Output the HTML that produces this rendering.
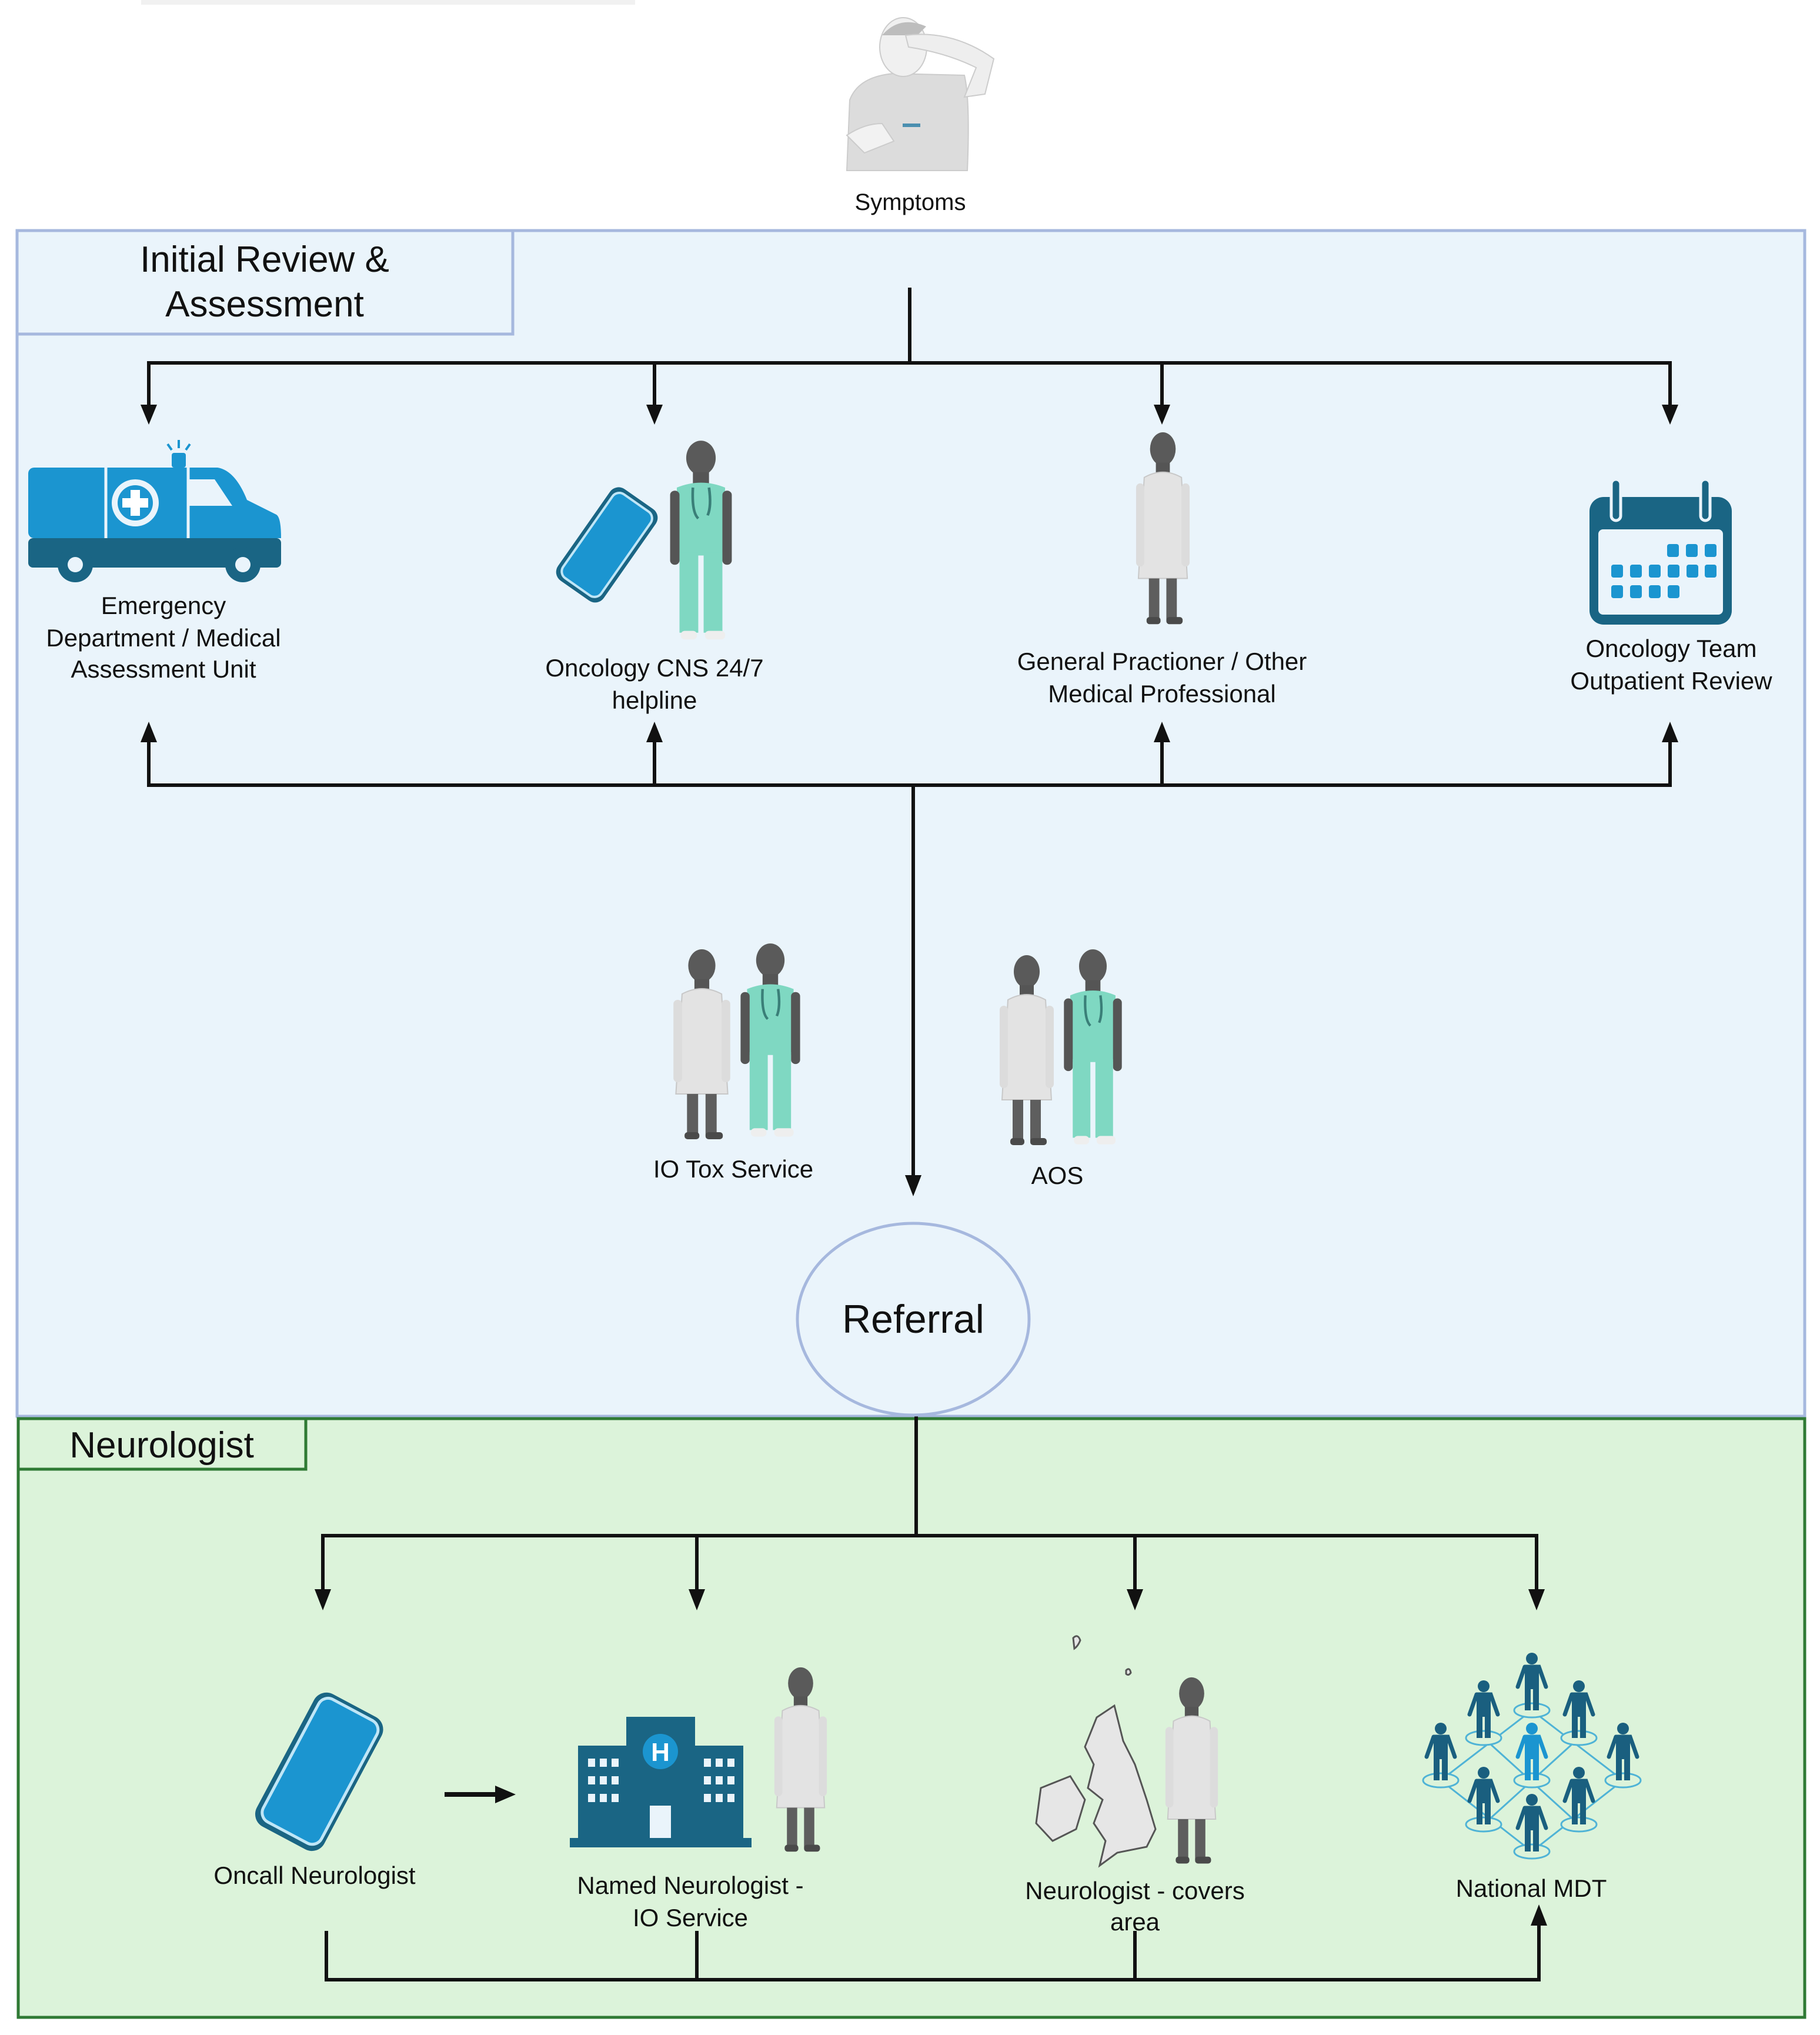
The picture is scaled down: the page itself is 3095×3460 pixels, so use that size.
<!DOCTYPE html>
<html><head><meta charset="utf-8"><style>
html,body{margin:0;padding:0;background:#fff;}
svg{display:block;}
text{font-family:"Liberation Sans",sans-serif;fill:#111;}
</style></head><body>
<svg width="3095" height="3460" viewBox="0 0 3095 3460" xmlns="http://www.w3.org/2000/svg">
<defs>
<marker id="ah" markerWidth="10" markerHeight="10" refX="5" refY="9" orient="auto" markerUnits="userSpaceOnUse" viewBox="0 0 10 10">
</marker>
<g id="coat">
 <ellipse cx="50" cy="32" rx="22" ry="28" fill="#5a5a5a"/>
 <rect x="38" y="55" width="24" height="20" fill="#555"/>
 <path d="M18 80 Q50 62 82 80 L92 250 L8 250 Z" fill="#e3e3e3" stroke="#c8c8c8" stroke-width="2"/>
 <rect x="4" y="90" width="14" height="140" rx="7" fill="#dcdcdc"/>
 <rect x="82" y="90" width="14" height="140" rx="7" fill="#dcdcdc"/>
 <rect x="26" y="250" width="18" height="70" fill="#5e5e5e"/>
 <rect x="56" y="250" width="18" height="70" fill="#5e5e5e"/>
 <rect x="22" y="315" width="24" height="12" rx="5" fill="#4a4a4a"/>
 <rect x="56" y="315" width="28" height="12" rx="5" fill="#4a4a4a"/>
</g>
<g id="scrub">
 <ellipse cx="50" cy="32" rx="22" ry="28" fill="#5a5a5a"/>
 <rect x="38" y="55" width="24" height="20" fill="#555"/>
 <path d="M14 80 Q50 64 86 80 L84 190 L16 190 Z" fill="#7fd8c2"/>
 <rect x="4" y="85" width="14" height="120" rx="7" fill="#555"/>
 <rect x="82" y="85" width="14" height="120" rx="7" fill="#555"/>
 <rect x="18" y="185" width="28" height="130" fill="#7fd8c2"/>
 <rect x="54" y="185" width="28" height="130" fill="#7fd8c2"/>
 <rect x="20" y="312" width="24" height="14" rx="6" fill="#eee"/>
 <rect x="56" y="312" width="30" height="14" rx="6" fill="#eee"/>
 <path d="M38 80 Q36 120 46 130 M62 80 Q66 110 60 125" stroke="#3a7f78" stroke-width="4" fill="none"/>
</g>
<g id="stick">
 <circle cx="0" cy="-88" r="10" fill="#1a5f7f"/>
 <path d="M-12 -74 L12 -74 L24 -40 M-12 -74 L-24 -40" stroke="#1a5f7f" stroke-width="7" fill="none" stroke-linecap="round"/>
 <rect x="-12" y="-76" width="24" height="40" fill="#1a5f7f"/>
 <rect x="-12" y="-38" width="10" height="38" fill="#1a5f7f"/>
 <rect x="2" y="-38" width="10" height="38" fill="#1a5f7f"/>
</g>
</defs>

<!-- faint smear top-left -->
<rect x="240" y="0" width="840" height="8" fill="#f1f1f1"/>

<!-- Symptoms figure -->
<g>
 <path d="M1440 290 L1445 170 Q1460 130 1520 125 L1640 128 Q1650 170 1645 290 Z" fill="#dcdcdc" stroke="#ccc" stroke-width="2"/>
 <ellipse cx="1536" cy="80" rx="40" ry="50" fill="#f0f0f0" stroke="#ccc" stroke-width="2"/>
 <path d="M1500 60 Q1530 25 1575 45 L1560 60 Z" fill="#bdbdbd"/>
 <path d="M1540 60 Q1620 50 1690 100 L1675 160 L1640 165 L1660 115 Q1610 90 1545 80 Z" fill="#eee" stroke="#ccc" stroke-width="2"/>
 <path d="M1440 230 Q1470 210 1500 210 L1520 240 L1470 260 Z" fill="#f2f2f2" stroke="#ccc" stroke-width="2"/>
 <rect x1="0" x="1535" y="210" width="30" height="6" fill="#4a8fb0"/>
</g>
<text x="1548" y="357" font-size="40" text-anchor="middle">Symptoms</text>

<!-- Blue section -->
<rect x="29" y="392" width="3040" height="2016" fill="#eaf4fb" stroke="#a6b8de" stroke-width="5"/>
<rect x="29" y="392" width="843" height="176" fill="#eaf4fb" stroke="#a6b8de" stroke-width="5"/>
<text x="450" y="462" font-size="62" text-anchor="middle">Initial Review &amp;</text>
<text x="450" y="538" font-size="62" text-anchor="middle">Assessment</text>

<!-- Green section -->
<rect x="31" y="2412" width="3038" height="1018" fill="#dcf3da" stroke="#2f7a34" stroke-width="5"/>
<rect x="31" y="2412" width="489" height="86" fill="#dcf3da" stroke="#2f7a34" stroke-width="5"/>
<text x="275" y="2478" font-size="62" text-anchor="middle">Neurologist</text>

<!-- connectors top -->
<g stroke="#111" stroke-width="6" fill="none">
 <line x1="1547" y1="489" x2="1547" y2="617"/>
 <line x1="250" y1="617" x2="2843" y2="617"/>
 <line x1="253" y1="617" x2="253" y2="690"/>
 <line x1="1113" y1="617" x2="1113" y2="690"/>
 <line x1="1976" y1="617" x2="1976" y2="690"/>
 <line x1="2840" y1="617" x2="2840" y2="690"/>
 <line x1="250" y1="1335" x2="2843" y2="1335"/>
 <line x1="253" y1="1335" x2="253" y2="1258"/>
 <line x1="1113" y1="1335" x2="1113" y2="1258"/>
 <line x1="1976" y1="1335" x2="1976" y2="1258"/>
 <line x1="2840" y1="1335" x2="2840" y2="1258"/>
 <line x1="1553" y1="1335" x2="1553" y2="2000"/>
 <line x1="1558" y1="2408" x2="1558" y2="2611"/>
 <line x1="546" y1="2611" x2="2616" y2="2611"/>
 <line x1="549" y1="2611" x2="549" y2="2705"/>
 <line x1="1185" y1="2611" x2="1185" y2="2705"/>
 <line x1="1930" y1="2611" x2="1930" y2="2705"/>
 <line x1="2613" y1="2611" x2="2613" y2="2705"/>
 <line x1="555" y1="3283" x2="555" y2="3366"/>
 <line x1="1185" y1="3283" x2="1185" y2="3366"/>
 <line x1="1930" y1="3283" x2="1930" y2="3366"/>
 <line x1="552" y1="3366" x2="2620" y2="3366"/>
 <line x1="2617" y1="3366" x2="2617" y2="3270"/>
 <line x1="756" y1="3051" x2="845" y2="3051" stroke-width="8"/>
</g>
<g fill="#111">
 <polygon points="239,688 267,688 253,722"/>
 <polygon points="1099,688 1127,688 1113,722"/>
 <polygon points="1962,688 1990,688 1976,722"/>
 <polygon points="2826,688 2854,688 2840,722"/>
 <polygon points="239,1262 267,1262 253,1227"/>
 <polygon points="1099,1262 1127,1262 1113,1227"/>
 <polygon points="1962,1262 1990,1262 1976,1227"/>
 <polygon points="2826,1262 2854,1262 2840,1227"/>
 <polygon points="1539,1998 1567,1998 1553,2034"/>
 <polygon points="535,2702 563,2702 549,2738"/>
 <polygon points="1171,2702 1199,2702 1185,2738"/>
 <polygon points="1916,2702 1944,2702 1930,2738"/>
 <polygon points="2599,2702 2627,2702 2613,2738"/>
 <polygon points="2603,3274 2631,3274 2617,3238"/>
 <polygon points="842,3036 877,3051 842,3066"/>
</g>

<!-- Referral -->
<ellipse cx="1553" cy="2243" rx="197" ry="163" fill="#eaf4fb" stroke="#a6b8de" stroke-width="5"/>
<text x="1553" y="2266" font-size="68" text-anchor="middle">Referral</text>

<!-- Ambulance -->
<g>
 <rect x="48" y="795" width="300" height="120" rx="10" fill="#1b95d0"/>
 <path d="M300 795 L370 795 Q400 800 420 850 L470 875 Q478 880 478 915 L300 915 Z" fill="#1b95d0"/>
 <path d="M320 815 L365 815 L395 860 L320 860 Z" fill="#eaf4fb"/>
 <rect x="48" y="915" width="430" height="50" rx="8" fill="#1a6584"/>
 <line x1="180" y1="795" x2="180" y2="915" stroke="#eaf4fb" stroke-width="5"/>
 <line x1="320" y1="795" x2="320" y2="915" stroke="#eaf4fb" stroke-width="5"/>
 <circle cx="230" cy="855" r="40" fill="#eaf4fb"/>
 <circle cx="230" cy="855" r="30" fill="#1b95d0"/>
 <rect x="222" y="833" width="16" height="44" fill="#fff"/>
 <rect x="208" y="847" width="44" height="16" fill="#fff"/>
 <rect x="292" y="770" width="24" height="25" rx="4" fill="#1b95d0"/>
 <path d="M304 748 L304 762 M285 755 L292 765 M323 755 L316 765" stroke="#1b95d0" stroke-width="4"/>
 <circle cx="128" cy="960" r="30" fill="#1a6584"/><circle cx="128" cy="960" r="13" fill="#eaf4fb"/>
 <circle cx="413" cy="960" r="30" fill="#1a6584"/><circle cx="413" cy="960" r="13" fill="#eaf4fb"/>
</g>
<g font-size="42" text-anchor="middle">
 <text x="278" y="1044">Emergency</text>
 <text x="278" y="1099">Department / Medical</text>
 <text x="278" y="1152">Assessment Unit</text>
</g>

<!-- CNS phone + scrubs -->
<g transform="rotate(35 1030 925)">
 <rect x="985" y="830" width="95" height="190" rx="18" fill="#1a6584"/>
 <rect x="993" y="838" width="79" height="174" rx="14" fill="#1b95d0" stroke="#bfe6f7" stroke-width="4"/>
</g>
<use href="#scrub" transform="translate(1135 745) scale(1.14 1.05)"/>
<g font-size="42" text-anchor="middle">
 <text x="1113" y="1150">Oncology CNS 24/7</text>
 <text x="1113" y="1205">helpline</text>
</g>

<!-- GP -->
<use href="#coat" transform="translate(1928 731) scale(0.99 1.01)"/>
<g font-size="42" text-anchor="middle">
 <text x="1976" y="1139">General Practioner / Other</text>
 <text x="1976" y="1194">Medical Professional</text>
</g>

<!-- Calendar -->
<g>
 <rect x="2703" y="845" width="242" height="217" rx="24" fill="#1a6584"/>
 <rect x="2718" y="900" width="212" height="145" rx="8" fill="#eaf4fb"/>
 <rect x="2740" y="815" width="16" height="70" rx="8" fill="#1a6584" stroke="#eaf4fb" stroke-width="5"/>
 <rect x="2892" y="815" width="16" height="70" rx="8" fill="#1a6584" stroke="#eaf4fb" stroke-width="5"/>
 <g fill="#1b95d0">
  <rect x="2835" y="925" width="20" height="22" rx="4"/><rect x="2867" y="925" width="20" height="22" rx="4"/><rect x="2899" y="925" width="20" height="22" rx="4"/>
  <rect x="2740" y="960" width="20" height="22" rx="4"/><rect x="2772" y="960" width="20" height="22" rx="4"/><rect x="2804" y="960" width="20" height="22" rx="4"/><rect x="2836" y="960" width="20" height="22" rx="4"/><rect x="2868" y="960" width="20" height="22" rx="4"/><rect x="2899" y="960" width="20" height="22" rx="4"/>
  <rect x="2740" y="995" width="20" height="22" rx="4"/><rect x="2772" y="995" width="20" height="22" rx="4"/><rect x="2804" y="995" width="20" height="22" rx="4"/><rect x="2836" y="995" width="20" height="22" rx="4"/>
 </g>
</g>
<g font-size="42" text-anchor="middle">
 <text x="2842" y="1117">Oncology Team</text>
 <text x="2842" y="1172">Outpatient Review</text>
</g>

<!-- IO Tox -->
<use href="#coat" transform="translate(1141 1610) scale(1.05 1.0)"/>
<use href="#scrub" transform="translate(1255 1600) scale(1.1 1.02)"/>
<text x="1247" y="2002" font-size="42" text-anchor="middle">IO Tox Service</text>
<!-- AOS -->
<use href="#coat" transform="translate(1696 1620) scale(1.0 1.0)"/>
<use href="#scrub" transform="translate(1805 1610) scale(1.07 1.03)"/>
<text x="1798" y="2013" font-size="42" text-anchor="middle">AOS</text>

<!-- Oncall phone -->
<g transform="rotate(28 543 3012)">
 <rect x="478" y="2885" width="130" height="255" rx="24" fill="#1a6584"/>
 <rect x="488" y="2893" width="112" height="236" rx="18" fill="#1b95d0" stroke="#bfe6f7" stroke-width="5"/>
</g>
<text x="535" y="3203" font-size="42" text-anchor="middle">Oncall Neurologist</text>

<!-- Hospital -->
<g fill="#1a6584">
 <rect x="1065" y="2919" width="117" height="220"/>
 <rect x="983" y="2968" width="85" height="171"/>
 <rect x="1179" y="2968" width="85" height="171"/>
 <rect x="969" y="3125" width="309" height="16"/>
</g>
<circle cx="1123" cy="2978" r="30" fill="#1b95d0"/>
<text x="1123" y="2994" font-size="44" font-weight="bold" text-anchor="middle" style="fill:#fff">H</text>
<g fill="#eaf4fb">
 <rect x="1105" y="3070" width="36" height="55"/>
 <rect x="1000" y="2990" width="12" height="14"/><rect x="1020" y="2990" width="12" height="14"/><rect x="1040" y="2990" width="12" height="14"/>
 <rect x="1000" y="3020" width="12" height="14"/><rect x="1020" y="3020" width="12" height="14"/><rect x="1040" y="3020" width="12" height="14"/>
 <rect x="1000" y="3050" width="12" height="14"/><rect x="1020" y="3050" width="12" height="14"/><rect x="1040" y="3050" width="12" height="14"/>
 <rect x="1197" y="2990" width="12" height="14"/><rect x="1217" y="2990" width="12" height="14"/><rect x="1237" y="2990" width="12" height="14"/>
 <rect x="1197" y="3020" width="12" height="14"/><rect x="1217" y="3020" width="12" height="14"/><rect x="1237" y="3020" width="12" height="14"/>
 <rect x="1197" y="3050" width="12" height="14"/><rect x="1217" y="3050" width="12" height="14"/><rect x="1237" y="3050" width="12" height="14"/>
</g>
<use href="#coat" transform="translate(1313 2831) scale(0.97 0.97)"/>
<g font-size="42" text-anchor="middle">
 <text x="1174" y="3220">Named Neurologist -</text>
 <text x="1174" y="3275">IO Service</text>
</g>

<!-- UK map -->
<g fill="#e6e6e6" stroke="#555" stroke-width="3">
 <path d="M1865 2920 L1895 2900 L1910 2960 L1930 3000 L1950 3060 L1965 3110 L1950 3140 L1900 3150 L1870 3172 L1880 3130 L1860 3100 L1875 3060 L1850 3040 L1860 3000 L1845 2970 Z"/>
 <path d="M1770 3040 L1820 3020 L1845 3060 L1830 3110 L1790 3130 L1762 3100 Z"/>
 <path d="M1825 2785 q8 -8 12 4 q-4 10 -10 14 z"/>
 <path d="M1915 2840 q6 -6 8 4 q-4 6 -8 2 z"/>
</g>
<use href="#coat" transform="translate(1978 2848) scale(0.97 0.98)"/>
<g font-size="42" text-anchor="middle">
 <text x="1930" y="3229">Neurologist - covers</text>
 <text x="1930" y="3282">area</text>
</g>

<!-- MDT network -->
<g stroke="#4fb3d6" stroke-width="3" fill="none">
 <polyline points="2605,2908 2450,3027 2605,3148 2760,3027 2605,2908"/>
 <polyline points="2523,2955 2685,3102"/>
 <polyline points="2685,2955 2523,3102"/>
 <ellipse cx="2605" cy="2908" rx="30" ry="12" fill="#dcf3da"/>
 <ellipse cx="2523" cy="2955" rx="30" ry="12" fill="#dcf3da"/>
 <ellipse cx="2685" cy="2955" rx="30" ry="12" fill="#dcf3da"/>
 <ellipse cx="2450" cy="3027" rx="30" ry="12" fill="#dcf3da"/>
 <ellipse cx="2605" cy="3027" rx="30" ry="12" fill="#dcf3da"/>
 <ellipse cx="2760" cy="3027" rx="30" ry="12" fill="#dcf3da"/>
 <ellipse cx="2523" cy="3102" rx="30" ry="12" fill="#dcf3da"/>
 <ellipse cx="2685" cy="3102" rx="30" ry="12" fill="#dcf3da"/>
 <ellipse cx="2605" cy="3148" rx="30" ry="12" fill="#dcf3da"/>
</g>
<use href="#stick" x="2605" y="2908"/>
<use href="#stick" x="2523" y="2955"/>
<use href="#stick" x="2685" y="2955"/>
<use href="#stick" x="2450" y="3027"/>
<use href="#stick" x="2760" y="3027"/>
<use href="#stick" x="2523" y="3102"/>
<use href="#stick" x="2685" y="3102"/>
<use href="#stick" x="2605" y="3148"/>
<g transform="translate(2605 3027)">
 <circle cx="0" cy="-88" r="10" fill="#1b95d0"/>
 <path d="M-12 -74 L12 -74 L24 -40 M-12 -74 L-24 -40" stroke="#1b95d0" stroke-width="7" fill="none" stroke-linecap="round"/>
 <rect x="-12" y="-76" width="24" height="40" fill="#1b95d0"/>
 <rect x="-12" y="-38" width="10" height="38" fill="#1b95d0"/>
 <rect x="2" y="-38" width="10" height="38" fill="#1b95d0"/>
</g>
<text x="2604" y="3225" font-size="42" text-anchor="middle">National MDT</text>
</svg>
</body></html>
